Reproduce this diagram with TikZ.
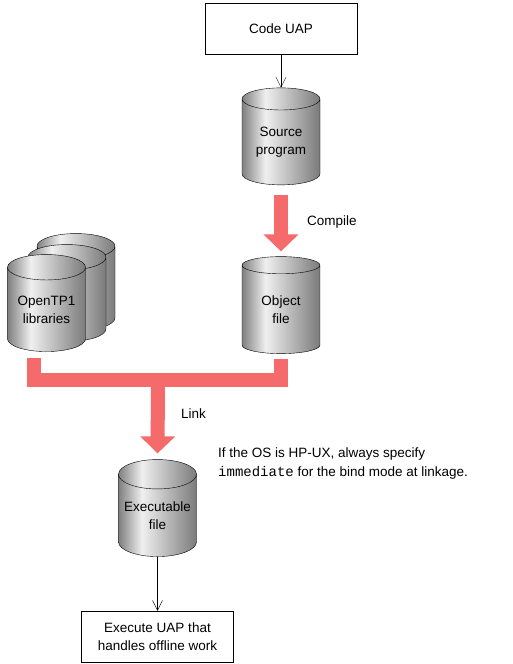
\documentclass[tikz,border=0pt]{standalone}
\usepackage{fontspec}
\setmainfont{Liberation Sans}
\setmonofont{Liberation Mono}
\usetikzlibrary{arrows.meta,shapes.geometric}

\definecolor{linkred}{RGB}{245,106,106}
\pgfdeclarehorizontalshading{drumshade}{100bp}{color(0bp)=(black!50); color(25bp)=(black!50); color(40bp)=(black!6); color(75bp)=(black!52); color(100bp)=(black!52)}

\begin{document}
\begin{tikzpicture}[x=1pt, y=-1pt, font=\fontsize{13.5}{18}\selectfont]
	\useasboundingbox (0,0) rectangle (512,664);
	\begin{scope}[every node/.style = {draw, thin, align=center, minimum width=152pt, minimum height=51pt}]
		\node (code) at (281,28.5) {Code UAP};
		\node (run) at (157.5,636.5) {Execute UAP that\\handles offline work};
	\end{scope}
	\begin{scope}[every node/.style = {cylinder, shape border rotate=90, draw, thin, shading=drumshade,
			aspect=0.44, minimum width=78pt, minimum height=97pt, inner sep=0pt, align=center}]
		\node (lib3) at (76,288.5) {\phantom{OpenTP1}\\\phantom{libraries}};
		\node (lib2) at (67,299.5) {\phantom{OpenTP1}\\\phantom{libraries}};
		\node (lib1) at (46.5,309.5) {OpenTP1\\libraries};
		\node (source) at (281,142) {Source\\program};
		\node (object) at (281,309.5) {Object\\file};
		\node (exe) at (157.5,515.5) {Executable\\file};
	\end{scope}
	\node[anchor=base west, inner sep=0pt] (compile) at (307,225) {Compile};
	\node[anchor=base west, inner sep=0pt] (link) at (181,418) {Link};
	\node[anchor=west, align=left, inner sep=0pt, font=\fontsize{13.5}{19}\selectfont] (note) at (218,464)
		{If the OS is HP-UX, always specify\\{\ttfamily\fontsize{14}{19}\selectfont immediate} for the bind mode at linkage.};
	\coordinate (joint) at (158,379.5);
	\begin{scope}[>={Triangle[width=34pt, length=17pt]}]
		\draw [linkred, line width=14pt, ->, shorten <=10pt, shorten >=5pt] (source.bottom) -- (object.top);
		\draw [linkred, line width=14pt] ([xshift=-12.5pt, yshift=-6pt]lib1.bottom) |- (joint) -| ([yshift=-5pt]object.bottom);
		\draw [linkred, line width=14pt, ->, shorten >=6pt] (joint) -- (exe.top);
	\end{scope}
	\begin{scope}[>={Straight Barb[length=10pt, width=10pt]},
			every edge/.style={draw=black, thin}]
		\path [->] (code) edge (source.top);
		\path [->] (exe) edge (run);
	\end{scope}
\end{tikzpicture}
\end{document}
